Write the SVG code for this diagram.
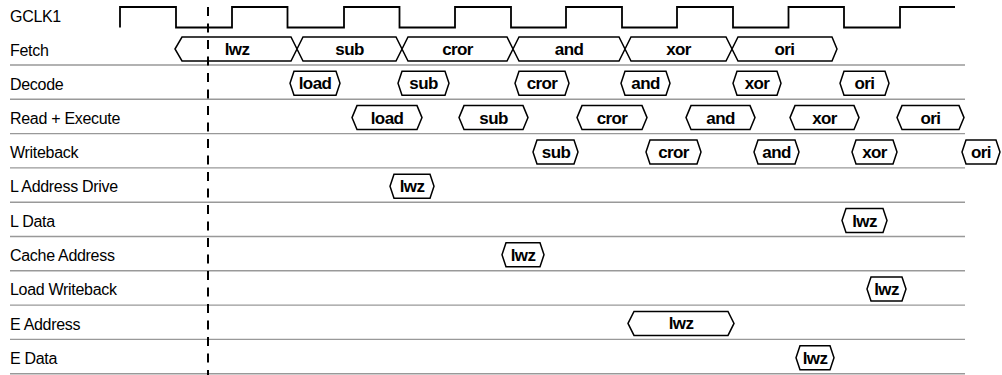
<svg xmlns="http://www.w3.org/2000/svg" width="1002" height="375" viewBox="0 0 1002 375">
<style>
.lbl{font-family:"Liberation Sans",Arial,sans-serif;font-size:16px;fill:#000;letter-spacing:-0.3px}
.bt{font-family:"Liberation Sans",Arial,sans-serif;font-size:17px;font-weight:bold;fill:#000;text-anchor:middle;letter-spacing:-0.6px}
.box{fill:#fff;stroke:#000;stroke-width:1.5;stroke-linejoin:miter}
.sep{stroke:#999;stroke-width:1.4}
.clk{fill:none;stroke:#000;stroke-width:1.8}
.dash{stroke:#000;stroke-width:2;stroke-dasharray:9 7.5}
</style>
<rect width="1002" height="375" fill="#fff"/>
<g id="labels">
<text class="lbl" x="10" y="22">GCLK1</text>
<text class="lbl" x="10" y="55.5">Fetch</text>
<text class="lbl" x="10" y="89.5">Decode</text>
<text class="lbl" x="10" y="123.5">Read + Execute</text>
<text class="lbl" x="10" y="158">Writeback</text>
<text class="lbl" x="10" y="192">L Address Drive</text>
<text class="lbl" x="10" y="226.5">L Data</text>
<text class="lbl" x="10" y="261">Cache Address</text>
<text class="lbl" x="10" y="295">Load Writeback</text>
<text class="lbl" x="10" y="329.5">E Address</text>
<text class="lbl" x="10" y="364">E Data</text>
</g>
<g id="lines">
<line class="sep" x1="10" y1="65" x2="965" y2="65"/>
<line class="sep" x1="10" y1="99.3" x2="965" y2="99.3"/>
<line class="sep" x1="10" y1="133.6" x2="965" y2="133.6"/>
<line class="sep" x1="10" y1="167.9" x2="965" y2="167.9"/>
<line class="sep" x1="10" y1="202.2" x2="965" y2="202.2"/>
<line class="sep" x1="10" y1="236.5" x2="965" y2="236.5"/>
<line class="sep" x1="10" y1="270.8" x2="965" y2="270.8"/>
<line class="sep" x1="10" y1="305.1" x2="965" y2="305.1"/>
<line class="sep" x1="10" y1="339.4" x2="965" y2="339.4"/>
<line class="sep" x1="10" y1="373.7" x2="965" y2="373.7"/>
<polyline class="clk" points="120,27.5 120,7 176,7 176,27.5 232,27.5 232,7 287.5,7 287.5,27.5 344,27.5 344,7 399.5,7 399.5,27.5 455,27.5 455,7 511,7 511,27.5 566,27.5 566,7 622,7 622,27.5 677,27.5 677,7 733,7 733,27.5 788.5,27.5 788.5,7 844,7 844,27.5 900,27.5 900,7 955,7"/>
</g>
<g id="fetch">
<g id="f-lwz"><polygon class="box" points="175,49 182,37 291,37 297,49 291,61 182,61"/><text class="bt" x="237" y="55">lwz</text></g>
<g id="f-sub"><polygon class="box" points="297,49 303,37 396,37 402,49 396,61 303,61"/><text class="bt" x="349.5" y="55">sub</text></g>
<g id="f-cror"><polygon class="box" points="402,49 408,37 507,37 513,49 507,61 408,61"/><text class="bt" x="457.5" y="55">cror</text></g>
<g id="f-and"><polygon class="box" points="513,49 519,37 619,37 625,49 619,61 519,61"/><text class="bt" x="569" y="55">and</text></g>
<g id="f-xor"><polygon class="box" points="625,49 631,37 726,37 732,49 726,61 631,61"/><text class="bt" x="678.5" y="55">xor</text></g>
<g id="f-ori"><polygon class="box" points="732,49 738,37 832,37 837,49 832,61 738,61"/><text class="bt" x="784.5" y="55">ori</text></g>
</g>
<g id="decode">
<g id="d-load"><polygon class="box" points="290,83.3 294,71.3 336,71.3 340,83.3 336,95.3 294,95.3"/><text class="bt" x="315" y="89.3">load</text></g>
<g id="d-sub"><polygon class="box" points="398,83.3 402,71.3 445,71.3 449,83.3 445,95.3 402,95.3"/><text class="bt" x="423.5" y="89.3">sub</text></g>
<g id="d-cror"><polygon class="box" points="515,83.3 519,71.3 565,71.3 569,83.3 565,95.3 519,95.3"/><text class="bt" x="542" y="89.3">cror</text></g>
<g id="d-and"><polygon class="box" points="621,83.3 625,71.3 666,71.3 670,83.3 666,95.3 625,95.3"/><text class="bt" x="645.5" y="89.3">and</text></g>
<g id="d-xor"><polygon class="box" points="733,83.3 737,71.3 777,71.3 781,83.3 777,95.3 737,95.3"/><text class="bt" x="757" y="89.3">xor</text></g>
<g id="d-ori"><polygon class="box" points="840,83.3 844,71.3 885,71.3 889,83.3 885,95.3 844,95.3"/><text class="bt" x="864.5" y="89.3">ori</text></g>
</g>
<g id="exec">
<g id="e-load"><polygon class="box" points="352,117.6 357,105.6 417,105.6 422,117.6 417,129.6 357,129.6"/><text class="bt" x="387" y="123.6">load</text></g>
<g id="e-sub"><polygon class="box" points="459,117.6 464,105.6 523,105.6 528,117.6 523,129.6 464,129.6"/><text class="bt" x="493.5" y="123.6">sub</text></g>
<g id="e-cror"><polygon class="box" points="577,117.6 582,105.6 642,105.6 647,117.6 642,129.6 582,129.6"/><text class="bt" x="612" y="123.6">cror</text></g>
<g id="e-and"><polygon class="box" points="686,117.6 691,105.6 750,105.6 755,117.6 750,129.6 691,129.6"/><text class="bt" x="720.5" y="123.6">and</text></g>
<g id="e-xor"><polygon class="box" points="790,117.6 795,105.6 854,105.6 859,117.6 854,129.6 795,129.6"/><text class="bt" x="824.5" y="123.6">xor</text></g>
<g id="e-ori"><polygon class="box" points="897,117.6 902,105.6 959,105.6 964,117.6 959,129.6 902,129.6"/><text class="bt" x="930.5" y="123.6">ori</text></g>
</g>
<g id="writeback">
<g id="w-sub"><polygon class="box" points="533,151.9 537,139.9 574,139.9 578,151.9 574,163.9 537,163.9"/><text class="bt" x="556" y="157.9">sub</text></g>
<g id="w-cror"><polygon class="box" points="646,151.9 650,139.9 697,139.9 701,151.9 697,163.9 650,163.9"/><text class="bt" x="673.5" y="157.9">cror</text></g>
<g id="w-and"><polygon class="box" points="754,151.9 758,139.9 795,139.9 799,151.9 795,163.9 758,163.9"/><text class="bt" x="776.5" y="157.9">and</text></g>
<g id="w-xor"><polygon class="box" points="852,151.9 856,139.9 893,139.9 897,151.9 893,163.9 856,163.9"/><text class="bt" x="874.5" y="157.9">xor</text></g>
<g id="w-ori"><polygon class="box" points="962,151.9 966,139.9 996,139.9 1000,151.9 996,163.9 966,163.9"/><text class="bt" x="981" y="157.9">ori</text></g>
</g>
<g id="laddr"><polygon class="box" points="390,186.2 394,174.2 430,174.2 434,186.2 430,198.2 394,198.2"/><text class="bt" x="412" y="192.2">lwz</text></g>
<g id="ldata"><polygon class="box" points="842,220.5 846,208.5 883,208.5 887,220.5 883,232.5 846,232.5"/><text class="bt" x="864.5" y="226.5">lwz</text></g>
<g id="cache"><polygon class="box" points="502,254.8 506,242.8 540,242.8 544,254.8 540,266.8 506,266.8"/><text class="bt" x="523" y="260.8">lwz</text></g>
<g id="loadwb"><polygon class="box" points="867,289.1 871,277.1 902,277.1 906,289.1 902,301.1 871,301.1"/><text class="bt" x="886.5" y="295.1">lwz</text></g>
<g id="eaddr"><polygon class="box" points="628,323.4 634,311.4 728,311.4 734,323.4 728,335.4 634,335.4"/><text class="bt" x="681" y="329.4">lwz</text></g>
<g id="edata"><polygon class="box" points="796,357.7 800,345.7 830,345.7 834,357.7 830,369.7 800,369.7"/><text class="bt" x="815" y="363.7">lwz</text></g>
<line class="dash" x1="208" y1="7" x2="208" y2="375"/>
</svg>
